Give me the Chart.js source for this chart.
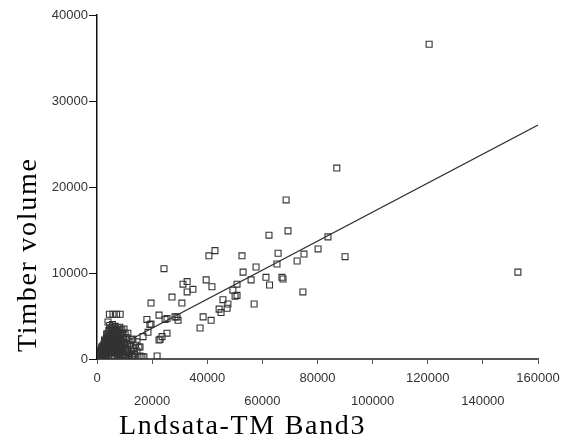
<!DOCTYPE html>
<html>
<head>
<meta charset="utf-8">
<script src="https://cdn.jsdelivr.net/npm/chart.js@4/dist/chart.umd.min.js"></script>
<style>
html,body{margin:0;padding:0;background:#fff;}
#wrap{width:571px;height:439px;}
</style>
</head>
<body>
<div id="wrap"><canvas id="c" width="571" height="439"></canvas></div>
<script>
// ---- Data ----
const xTitle = 'Lndsata-TM Band3';
const yTitle = 'Timber volume';
const xTickLabels = ['0','20000','40000','60000','80000','100000','120000','140000','160000'];
const yTickLabels = ['0','10000','20000','30000','40000'];

// scattered points (Band3 value, timber volume)
const band3Scatter = [120500,87000,68600,69300,83800,80200,90000,65700,75100,72600,65300,67100,67500,74700,152700,62600,62400,42800,40600,52600,57700,53000,61300,55900,24300,32700,31200,39600,41700,34800,32700,27200,30800,19600,50800,49300,45700,47500,47200,50100,50800,44300,45000,57000,22500,25400,24700,29000,29400,38500,37400,41400,18100,19200,18500,25400,23600,22500,16700,15600,21800,16300,17000,13100,14500,12700,10200,8300,4500,5800,7100,8400,4000,19600,28300,22900,15200,13000,11200,9400,9800,8300,15600,13800,12700];
const volumeScatter = [36600,22200,18500,14900,14200,12800,11900,12300,12200,11400,11050,9500,9300,7800,10100,8600,14400,12600,12000,12000,10700,10100,9500,9200,10500,9000,8700,9200,8400,8100,7800,7200,6500,6500,8700,8000,6900,6400,5900,7300,7400,5800,5400,6400,5100,4700,4600,4900,4500,4900,3600,4500,4600,4000,3100,3000,2600,2200,2600,1400,350,250,250,250,2000,2300,3000,3400,5200,5200,5200,5200,4300,4070,4900,2300,1400,2300,3000,3000,3500,3700,350,350,350];

// dense cluster near the origin
const band3Cluster = [200,300,500,600,800,900,1000,1100,1200,1400,1500,1600,1800,1900,2000,2100,2200,2400,2500,2600,2800,2900,3000,3100,3200,3400,3500,3600,3700,3800,3900,4000,4100,4200,4300,4400,4500,4600,4700,4800,4900,5000,5100,5200,5300,5400,5500,5600,5700,5800,5900,6000,6100,6200,6300,6400,6500,6600,6700,6800,6900,7000,7100,7200,7300,7400,7500,7600,7700,7800,7900,8000,8100,8200,8400,8500,8600,8800,9000,9100,9300,9400,9600,9800,10000,10200,10400,10600,10800,11000,11300,11600,11900,12200,12500,12800,13200,13600,14000,14500,2300,3300,4300,5300,6300,7300,8300,9300,10300,11300,1300,700,1700,2700,3500,4600,5600,6600,7600,9000];
const volumeCluster = [50,200,100,400,250,600,100,800,400,1000,200,700,1200,450,900,1500,150,1100,1700,600,1900,300,1300,2100,800,2400,1600,500,2700,1100,1900,3000,250,2200,3300,1400,2600,700,3500,1800,2900,1100,3600,2300,400,3200,1600,2700,3700,900,2000,3400,2500,1300,3000,300,2200,3500,1700,2800,1000,3300,2000,600,2600,1400,3100,2300,900,1800,2800,200,1300,2400,3000,1700,700,2100,1200,2700,300,1600,2300,900,1900,200,1300,2500,700,1700,1100,2100,400,1500,900,200,1200,600,1600,900,50,100,150,100,100,150,100,150,100,200,50,800,1400,2200,2900,3900,4000,3800,3600,3400];
const band3Cluster2 = [400,700,1000,1300,1600,1900,2200,2500,2800,3100,3400,3700,4000,4300,4600,4900,5200,5500,5800,6100,6400,6700,7000,7300,7600,7900,8200,8500,8800,9100,600,900,1200,1500,1800,2100,2400,2700,3000,3300,3600,3900,4200,4500,4800,5100,5400,5700,6000,6300,6600,6900,7200,7500,7800,8100,8700,9500,10500,11500];
const volumeCluster2 = [300,500,300,900,600,1200,800,1400,1000,1700,1200,2000,1500,2400,1800,2600,2000,2900,2200,2500,1900,2300,1600,2000,1400,1700,1100,1500,900,1300,100,300,600,200,900,500,1300,800,1500,600,1800,1000,2500,1200,2000,800,1500,1900,1200,1600,900,1300,1100,700,1200,500,800,500,1000,600];

// regression line end points
const fitX = [0,160000];
const fitY = [200,27200];

// ---- Build datasets ----
const pts = [];
band3Scatter.forEach((v,i)=>pts.push({x:v,y:volumeScatter[i]}));
band3Cluster.forEach((v,i)=>pts.push({x:v,y:volumeCluster[i]}));
band3Cluster2.forEach((v,i)=>pts.push({x:v,y:volumeCluster2[i]}));
const fitPts = fitX.map((v,i)=>({x:v,y:fitY[i]}));

const titlePlugin = {
  id:'titles',
  afterDraw(chart){
    const ctx = chart.ctx;
    ctx.save();
    ctx.fillStyle = '#000';
    ctx.font = '28px "Liberation Serif", "Times New Roman", serif';
    if ('letterSpacing' in ctx) ctx.letterSpacing = '1.7px';
    ctx.textAlign = 'left';
    ctx.textBaseline = 'alphabetic';
    ctx.fillText(xTitle, 119, 434);
    ctx.translate(36, 352);
    ctx.rotate(-Math.PI/2);
    ctx.fillText(yTitle, 0, 0);
    ctx.restore();
  }
};

new Chart(document.getElementById('c'), {
  type:'scatter',
  data:{
    datasets:[
      {
        type:'line',
        data:fitPts,
        borderColor:'#333',
        borderWidth:1.2,
        pointRadius:0,
        fill:false,
        order:2
      },
      {
        data:pts,
        pointStyle:'rect',
        pointRadius:4.2,
        pointBorderWidth:1.1,
        borderColor:'#333',
        backgroundColor:'rgba(0,0,0,0)',
        order:1
      }
    ]
  },
  options:{
    responsive:false,
    devicePixelRatio:1,
    animation:false,
    layout:{padding:{left:0,right:33,top:15,bottom:0}},
    plugins:{legend:{display:false},tooltip:{enabled:false},title:{display:false}},
    scales:{
      x:{
        type:'linear',
        min:0,max:160000,
        afterFit(s){ s.height = 80; },
        border:{display:true,color:'#555',width:2},
        grid:{display:true,drawOnChartArea:false,drawTicks:true,tickLength:5,color:'#555',lineWidth:1},
        ticks:{
          stepSize:20000,
          autoSkip:false,
          maxRotation:0,
          padding:3,
          color:'#333',
          font:{family:'"Liberation Sans", Arial, sans-serif',size:13,lineHeight:1.75},
          callback:(v,i)=>{ const t = xTickLabels[i]; return i%2===0 ? t : ['',t]; }
        }
      },
      y:{
        type:'linear',
        min:0,max:40000,
        afterFit(s){ s.width = 97; },
        border:{display:true,color:'#111',width:1.5},
        grid:{display:true,drawOnChartArea:false,drawTicks:true,tickLength:8,color:'#111',lineWidth:1},
        ticks:{
          stepSize:10000,
          padding:1,
          color:'#333',
          font:{family:'"Liberation Sans", Arial, sans-serif',size:13},
          callback:(v,i)=>yTickLabels[i]
        }
      }
    }
  },
  plugins:[titlePlugin]
});
</script>
</body>
</html>
